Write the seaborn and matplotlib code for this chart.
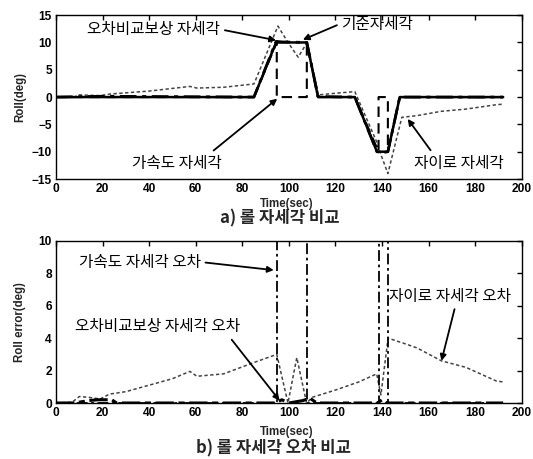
import matplotlib
matplotlib.use("Agg")
import matplotlib.pyplot as plt
import pandas as pd
import seaborn as sns

# ---- a) roll attitude (deg) ----
ref_t = [0, 85, 94.5, 107.7, 112.5, 128.3, 137.8, 142.5, 147.6, 192]
ref_v = [0, 0, 10, 10, 0, 0, -10, -10, 0, 0]

comp_t = [0, 20, 85, 94.5, 97, 107.7, 110, 112.5, 128.3, 137.8, 140, 142.5, 147.6, 192]
comp_v = [0, 0.15, 0, 10.2, 10.1, 10, 5.3, 0.1, 0, -10, -10.2, -10, 0, 0]

acc_t = [0, 85, 94.8, 94.8, 107.7, 107.7, 112.5, 128.3, 138.5, 138.5, 142.5, 142.5, 147.6, 192]
acc_v = [0, 0, 10, 0, 0, 10, 0, 0, -10, 0, 0, -10, 0, 0]

gyro_t = [0, 8, 10, 19, 23, 40, 57.5, 60.5, 72, 85, 95.3, 99.6, 104, 107.8, 110,
          112.7, 120, 128.3, 137.7, 139.5, 142.5, 148.5, 155, 165.5, 176, 189, 192]
gyro_v = [0, 0.05, 0.4, 0.25, 0.55, 1.1, 1.95, 1.65, 1.8, 2.4, 13.0, 10.0, 7.3, 10.0, 5.5,
          0.4, 0.7, 1.0, -8.2, -10.5, -14.0, -3.7, -3.4, -2.6, -2.2, -1.4, -1.3]

# ---- b) roll error (deg) ----
gerr_t = [0, 7, 10, 14, 19, 23, 30, 40, 50, 57.5, 60.5, 72, 85, 94.8, 99.6, 103.4,
          107.6, 110, 120, 130, 137.7, 139.5, 142.6, 149, 155, 165.5, 176, 189, 192]
gerr_v = [0, 0.05, 0.4, 0.35, 0.25, 0.55, 0.7, 1.1, 1.5, 1.95, 1.65, 1.8, 2.5, 3.0, 0.0, 2.8,
          0.0, 0.35, 0.8, 1.3, 1.8, 0.5, 4.0, 3.7, 3.4, 2.6, 2.2, 1.36, 1.3]

aerr_t = [0, 94.8, 94.8, 107.7, 107.7, 138.5, 138.5, 142.5, 142.5, 192]
aerr_v = [0, 0, 10, 10, 0, 0, 10, 10, 0, 0]

cerr_t = [0, 8, 14, 18, 24, 26, 94, 97, 100, 106, 109, 112, 138, 140, 142, 192]
cerr_v = [0, 0, 0.15, 0.2, 0.2, 0, 0, 0.2, 0, 0.15, 0.3, 0, 0, 0.2, 0, 0]

x_ticks = list(range(0, 201, 20))
top_yticks = [-15, -10, -5, 0, 5, 10, 15]
bot_yticks = [0, 2, 4, 6, 8, 10]

sns.set_theme(style="white")
plt.rcParams["font.family"] = ["Liberation Sans", "DejaVu Sans"]
KR = ["Noto Sans CJK KR", "DejaVu Sans"]

fig = plt.figure(figsize=(5.33, 4.59), dpi=100)
ax1 = fig.add_axes([0.105, 0.610, 0.874, 0.357])
ax2 = fig.add_axes([0.105, 0.122, 0.874, 0.353])


def line(ax, t, v, **kw):
    df = pd.DataFrame({"t": t, "v": v})
    sns.lineplot(data=df, x="t", y="v", ax=ax, estimator=None, sort=False, **kw)


gyro_style = dict(color="#444444", lw=1.1, linestyle=(0, (2.2, 1.6)))

# top panel
line(ax1, gyro_t, gyro_v, **gyro_style)
line(ax1, acc_t, acc_v, color="black", lw=1.5, linestyle=(0, (5, 3)))
line(ax1, ref_t, ref_v, color="black", lw=1.8)
line(ax1, comp_t, comp_v, color="black", lw=2.0, linestyle=(0, (6, 2, 1.5, 2)))

# bottom panel
line(ax2, gerr_t, gerr_v, **gyro_style)
line(ax2, aerr_t, aerr_v, color="black", lw=1.3, linestyle=(0, (6, 2, 1.5, 2)))
line(ax2, cerr_t, cerr_v, color="black", lw=2.2, linestyle=(0, (6, 1.5, 2, 1.5)))

for ax, yt, lim in [(ax1, top_yticks, (-15, 15)), (ax2, bot_yticks, (0, 10))]:
    ax.set_xlim(0, 200)
    ax.set_ylim(*lim)
    ax.set_xticks(x_ticks)
    ax.set_yticks(yt)
    ax.set_xlabel("")
    ax.set_ylabel("")
    ax.tick_params(direction="in", top=True, right=True, length=3.5, width=1,
                   labelsize=8.6, pad=3, colors="black")
    for lab in ax.get_xticklabels() + ax.get_yticklabels():
        lab.set_fontweight("bold")
    for s in ax.spines.values():
        s.set_color("black")
        s.set_linewidth(1.0)

arrow = dict(arrowstyle="-|>", color="black", lw=1.3, mutation_scale=9, shrinkA=1, shrinkB=0)
tkw = dict(fontsize=11.3, fontweight="medium", family=KR, ha="center", va="center", color="black")

ax1.annotate("오차비교보상 자세각", xy=(94.5, 10.4), xytext=(42, 12.4),
             arrowprops=dict(relpos=(1, 0.5), **arrow), **tkw)
ax1.annotate("기준자세각", xy=(106, 10.5), xytext=(138, 13.2),
             arrowprops=dict(relpos=(0, 0.6), **arrow), **tkw)
ax1.annotate("가속도 자세각", xy=(95, -0.3), xytext=(52, -12.1),
             arrowprops=dict(relpos=(0.85, 1), **arrow), **tkw)
ax1.annotate("자이로 자세각", xy=(151, -4.0), xytext=(173, -12.1),
             arrowprops=dict(relpos=(0.22, 1), **arrow), **tkw)

ax2.annotate("가속도 자세각 오차", xy=(93.5, 8.2), xytext=(36, 8.7),
             arrowprops=dict(relpos=(1, 0.5), **arrow), **tkw)
ax2.annotate("오차비교보상 자세각 오차", xy=(96, 0.15), xytext=(43.5, 4.7),
             arrowprops=dict(relpos=(0.93, 0), **arrow), **tkw)
ax2.annotate("자이로 자세각 오차", xy=(165.5, 2.6), xytext=(169, 6.6),
             arrowprops=dict(relpos=(0.55, 0), **arrow), **tkw)

lab = dict(fontsize=8.3, fontweight="bold", ha="center", va="center")
fig.text(0.538, 0.556, "Time(sec)", **lab)
fig.text(0.538, 0.059, "Time(sec)", **lab)
fig.text(0.0375, 0.789, "Roll(deg)", rotation=90, **lab)
fig.text(0.0375, 0.299, "Roll error(deg)", rotation=90, **lab)

cap = dict(fontsize=12, fontweight="bold", family=KR, ha="center", va="center")
fig.text(0.525, 0.523, "a) 롤 자세각 비교", **cap)
fig.text(0.514, 0.022, "b) 롤 자세각 오차 비교", **cap)

fig.savefig("out.png", dpi=100, facecolor="white")
